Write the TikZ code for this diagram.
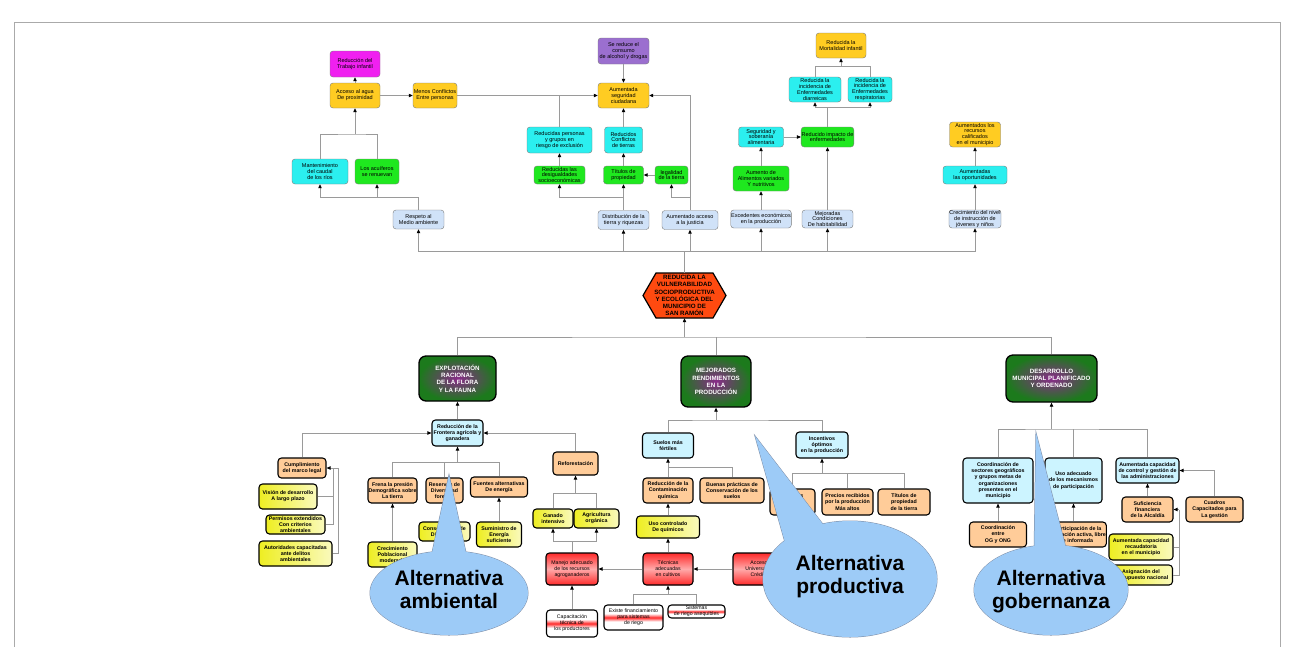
\documentclass[tikz,border=0pt]{standalone}
\usepackage{fontspec}
\setmainfont{Liberation Sans}
\usetikzlibrary{arrows.meta}
\definecolor{lngray}{HTML}{9A9A9A}
\definecolor{boxedge}{HTML}{7A7A7A}
\definecolor{gold}{HTML}{FFCC22}
\definecolor{magen}{HTML}{F020F0}
\definecolor{purp}{HTML}{9B6FCF}
\definecolor{cyanB}{HTML}{2BEFEF}
\definecolor{grn}{HTML}{1FE81F}
\definecolor{lblu}{HTML}{D0E2F8}
\definecolor{lcyan}{HTML}{CCF4FF}
\definecolor{peach}{HTML}{FFCC99}
\definecolor{ylw}{HTML}{EEEE22}
\definecolor{rd}{HTML}{FF2A2A}
\definecolor{dkgreen}{HTML}{1C7A1C}
\definecolor{glow}{HTML}{8A2A8A}
\definecolor{hexred}{HTML}{FF4A10}
\definecolor{bubblue}{HTML}{9DCBF7}
\definecolor{bubedge}{HTML}{7F8FA8}
\definecolor{framegray}{HTML}{AAAAAA}
\pgfdeclareverticalshading{redband}{100bp}{color(0bp)=(white); color(42bp)=(white); color(50bp)=(rd); color(58bp)=(white); color(100bp)=(white)}
\newcommand{\toptxt}{\fontsize{5.5}{5.9}\selectfont}
\newcommand{\bottxt}{\fontsize{5.3}{6.2}\selectfont\bfseries}
\newcommand{\redtxt}{\fontsize{5.2}{6}\selectfont}
\newcommand{\bigtxt}{\fontsize{6.2}{7.2}\selectfont\bfseries}
\newcommand{\hextxt}{\fontsize{6.2}{7.1}\selectfont\bfseries}
\newcommand{\bubtxt}{\fontsize{21}{23}\selectfont\bfseries}

\begin{document}
\begin{tikzpicture}[x=1pt,y=-1pt,
  ln/.style={draw=lngray,line width=0.8pt},
  arr/.style={-{Triangle[length=4pt,width=3.4pt,color=black]}},
  sz/.style 2 args={minimum width=#1,minimum height=#2},
  tbox/.style={rounded corners=3pt,align=center,inner sep=0.5pt,font=\toptxt,draw=boxedge,line width=0.4pt,fill=#1},
  bbox/.style={rounded corners=3.5pt,align=center,inner sep=0.5pt,font=\bottxt,draw=black,line width=1.1pt,fill=#1},
  ybox/.style={bbox=ylw,left color=ylw,right color=ylw!30!white},
  rbox/.style={bbox=rd,font=\redtxt,top color=rd,bottom color=rd,middle color=rd!40!white},
  wbox/.style={bbox=white,font=\redtxt,shading=redband},
  gbox/.style={rounded corners=7pt,align=center,inner sep=1pt,draw=black,line width=1.3pt,inner color=glow,outer color=dkgreen,text=white,font=\bigtxt},
  bubline/.style={draw=bubedge,line width=1pt},
  bubfill/.style={fill=bubblue},
  bubtext/.style={font=\bubtxt,align=center}
]
\useasboundingbox (0,0) rectangle (1292,646);
% frame
\draw[framegray,line width=0.6pt] (14,660) -- (14,22) -- (1280,22) -- (1280,660);

% top: water
\node[tbox=magen,sz={50}{26}] (trab) at (355,64) {Reducción del\\Trabajo infantil};
\node[tbox=gold,sz={50}{25}] (agua) at (355,95.5) {Acceso al agua\\De proximidad};
\node[tbox=gold,sz={44}{25}] (menos) at (435,95.5) {Menos Conflictos\\Entre personas};
\node[tbox=cyanB,sz={56}{25}] (caudal) at (320,171.5) {Mantenimiento\\del caudal\\de los ríos};
\node[tbox=grn,sz={44}{25}] (acuif) at (377,171.5) {Los acuíferos\\se renuevan};
\node[tbox=lblu,sz={51}{19}] (respeto) at (418.5,219.5) {Respeto al\\Medio ambiente};

% top: security
\node[tbox=purp,sz={51}{26}] (alcohol) at (623.5,51) {Se reduce el\\consumo\\de alcohol y drogas};
\node[tbox=gold,sz={51}{25}] (segur) at (623.5,95.5) {Aumentada\\seguridad\\ciudadana};
\node[tbox=cyanB,sz={65}{26}] (exclus) at (559.5,140) {Reducidas personas\\y grupos en\\riesgo de exclusión};
\node[tbox=cyanB,sz={38}{26}] (conflt) at (623.5,140) {Reducidos\\Conflictos\\de tierras};
\node[tbox=grn,sz={51}{18}] (desig) at (559.5,175) {Reducidas las\\desigualdades\\socioeconómicas};
\node[tbox=grn,sz={40}{18}] (titulos) at (623.5,175) {Títulos de\\propiedad};
\node[tbox=grn,sz={33}{18}] (legal) at (671.5,175) {legalidad\\de la tierra};
\node[tbox=lblu,sz={51}{19}] (distrib) at (623.5,220) {Distribución de la\\tierra y riquezas};
\node[tbox=lblu,sz={56}{19}] (justic) at (690,220) {Aumentado acceso\\a la justicia};

% top: health
\node[tbox=gold,sz={50}{25}] (mortal) at (841,45.5) {Reducida la\\Mortalidad infantil};
\node[tbox=cyanB,sz={52}{25}] (diarr) at (815,89.5) {Reducida la\\incidencia de\\Enfermedades\\diarreicas};
\node[tbox=cyanB,sz={44}{25}] (resp) at (870,89.5) {Reducida la\\incidencia de\\Enfermedades\\respiratorias};
\node[tbox=cyanB,sz={45}{20}] (soberan) at (761,137) {Seguridad y\\soberanía\\alimentaria};
\node[tbox=grn,sz={51}{20}] (impacto) at (827.5,137) {Reducido impacto de\\enfermedades};
\node[tbox=grn,sz={56}{25}] (alim) at (761,178.5) {Aumento de\\Alimentos variados\\Y nutritivos};
\node[tbox=lblu,sz={58}{18}] (exced) at (761,219) {Excedentes económicos\\en la producción};
\node[tbox=lblu,sz={51}{18}] (habit) at (827.5,219) {Mejoradas\\Condiciones\\De habitabilidad};
\node[tbox=gold,sz={51}{25}] (recurs) at (975,134.5) {Aumentados los\\recursos\\calificados\\en el municipio};
\node[tbox=cyanB,sz={64}{18}] (oport) at (975,175) {Aumentadas\\las oportunidades};
\node[tbox=lblu,sz={50}{18}] (instr) at (975,219) {Crecimiento del nivel\\de instrucción de\\jóvenes y niños};

% top connectors
\draw[ln,arr] (agua) -- (trab);
\draw[ln,arr] (agua) -- (menos);
\draw[ln,arr] (menos) -- (segur);
\coordinate (jw) at (355,134);
\draw[ln] (caudal.north) |- (jw) -| (acuif.north);
\draw[ln,arr] (jw) -- (agua.south);
\coordinate (jresp) at (418.5,197);
\draw[ln] (respeto.north) -- (jresp);
\draw[ln,arr] (jresp) -| (caudal.south);
\draw[ln,arr] (jresp) -| (acuif.south);
\draw[ln,arr] (alcohol) -- (segur);
\draw[ln] (exclus.north) -- (exclus.north |- segur.west);
\draw[ln,arr] (conflt) -- (segur);
\draw[ln,arr] (justic.north) |- (segur.east);
\coordinate (jl) at (690,197);
\draw[ln,arr] (jl) -| (legal.south);
\draw[ln,arr] (legal) -- (titulos);
\draw[ln,arr] (titulos) -- (conflt);
\draw[ln,arr] (desig) -- (exclus);
\coordinate (jdist) at (623.5,197);
\draw[ln] (distrib.north) -- (jdist);
\draw[ln,arr] (jdist) -| (desig.south);
\draw[ln,arr] (jdist) -- (titulos.south);
\coordinate (jm2) at (841,66.7);
\draw[ln] (diarr.north) |- (jm2) -| (resp.north);
\draw[ln,arr] (jm2) -- (mortal.south);
\coordinate (jimp) at (827.5,107);
\draw[ln] (impacto.north) -- (jimp);
\draw[ln,arr] (jimp) -| (diarr.south);
\draw[ln,arr] (jimp) -| (resp.south);
\draw[ln,arr] (soberan) -- (impacto);
\draw[ln,arr] (alim) -- (soberan);
\draw[ln,arr] (exced) -- (alim);
\draw[ln,arr] (habit) -- (impacto);
\draw[ln,arr] (instr) -- (oport);
\draw[ln,arr] (oport) -- (recurs);

% goal
\fill[hexred,draw=black,line width=1.2pt] (643,295.5) -- (656,273) -- (713,273) -- (726,295.5) -- (713,318) -- (656,318) -- cycle;
\node[font=\hextxt,align=center,minimum width=83,minimum height=45,inner sep=0pt] (meta) at (684.5,295.5)
  {REDUCIDA LA\\VULNERABILIDAD\\SOCIOPRODUCTIVA\\Y ECOLÓGICA DEL\\MUNICIPIO DE\\SAN RAMÓN};
\coordinate (jtop) at (684.5,251);
\draw[ln] (meta.north) -- (jtop);
\foreach \n in {respeto,distrib,justic,exced,habit,instr}
  \draw[ln,arr] (jtop) -| (\n.south);

% components
\node[gbox,sz={77}{45}] (explot) at (457.5,378.5) {EXPLOTACIÓN\\RACIONAL\\DE LA FLORA\\Y LA FAUNA};
\node[gbox,sz={70}{51}] (mejor) at (716,381.5) {MEJORADOS\\RENDIMIENTOS\\EN LA\\PRODUCCIÓN};
\node[gbox,sz={91}{47}] (desarr) at (1051.5,378.5) {DESARROLLO\\MUNICIPAL PLANIFICADO\\Y ORDENADO};
\coordinate (jg) at (684.5,337);
\draw[ln] (explot.north) |- (jg) -| (desarr.north);
\draw[ln] (mejor.north) -- (mejor.north |- jg);
\draw[ln,arr] (jg) -- (meta.south);

% bottom: environment
\node[bbox=lcyan,sz={51}{26}] (front) at (457.5,433) {Reducción de la\\Frontera agrícola y\\ganadera};
\node[bbox=peach,sz={48}{20}] (marco) at (302,468) {Cumplimiento\\del marco legal};
\node[ybox,sz={58}{25}] (vision) at (288,496.5) {Visión de desarrollo\\A largo plazo};
\node[ybox,sz={59}{19}] (permis) at (295.5,524.5) {Permisos extendidos\\Con criterios\\ambientales};
\node[ybox,sz={73}{25}] (autor) at (295.5,553.5) {Autoridades capacitadas\\ante delitos\\ambientales};
\node[bbox=peach,sz={49}{25}] (frena) at (392.5,490.5) {Frena la presión\\Demográfica sobre\\La tierra};
\node[bbox=peach,sz={37}{25}] (reserv) at (444.5,490.5) {Reservas de\\Diversidad\\forestal};
\node[bbox=peach,sz={57}{20}] (fuentes) at (499,487) {Fuentes alternativas\\De energía};
\node[ybox,sz={49}{25}] (pobla) at (392.5,554.5) {Crecimiento\\Poblacional\\moderado};
\node[ybox,sz={51}{19}] (conserv) at (444.5,531.5) {Conservación de\\Diversidad};
\node[ybox,sz={45}{25}] (sumin) at (499,534.5) {Suministro de\\Energía\\suficiente};
\node[bbox=peach,sz={45}{23}] (refor) at (575.5,463.5) {Reforestación};
\node[ybox,sz={40}{19}] (ganado) at (553,518.5) {Ganado\\intensivo};
\node[ybox,sz={45}{19}] (agric) at (596.5,518.5) {Agricultura\\orgánica};
\node[rbox,sz={52}{32}] (manejo) at (572,569) {Manejo adecuado\\de los recursos\\agroganaderos};
\node[wbox,sz={51}{27}] (capac) at (572,623.5) {Capacitación\\técnica de\\los productores};

\draw[ln,arr] (front) -- (explot);
\draw[ln,arr] (marco.north) |- (front.west);
\draw[ln,arr] (refor.north) |- (front.east);
\coordinate (bm) at (338,468);
\coordinate (bv) at (333,468);
\draw[ln,arr] (bm) -- (marco.east);
\draw[ln] (bm) |- (autor.east);
\draw[ln] (bv) |- (vision.east);
\draw[ln] (bv) |- (permis.east);
\coordinate (jf) at (457.5,462);
\draw[ln] (frena.north) |- (jf) -| (fuentes.north);
\draw[ln] (reserv.north) -- (reserv.north |- jf);
\draw[ln,arr] (jf) -- (front.south);
\draw[ln,arr] (pobla) -- (frena);
\draw[ln,arr] (sumin) -- (fuentes);
\coordinate (jr) at (575.5,493);
\draw[ln] (ganado.north) |- (jr) -| (agric.north);
\draw[ln,arr] (jr) -- (refor.south);
\coordinate (jm) at (572,541);
\draw[ln] (manejo.north) -- (jm);
\draw[ln,arr] (jm) -| (ganado.south);
\draw[ln,arr] (jm) -| (agric.south);
\draw[ln,arr] (capac) -- (manejo);

% bottom: production
\node[rbox,sz={50}{32}] (tecn) at (668,569) {Técnicas\\adecuadas\\en cultivos};
\node[wbox,sz={59}{25}] (financ) at (633.5,617.5) {Existe financiamiento\\para sistemas\\de riego};
\node[wbox,sz={57}{13}] (riego) at (696.5,611.5) {Sistemas\\de riego asequibles};
\node[ybox,sz={63}{22}] (quimic) at (668,527) {Uso controlado\\De químicos};
\node[bbox=peach,sz={50}{25}] (contam) at (668,490.5) {Reducción de la\\Contaminación\\química};
\node[bbox=peach,sz={64}{25}] (buenas) at (732,490.5) {Buenas prácticas de\\Conservación de los\\suelos};
\node[bbox=lcyan,sz={51}{25}] (suelos) at (668,445.5) {Suelos más\\fértiles};
\node[bbox=lcyan,sz={52}{26}] (incent) at (822,445) {Incentivos\\óptimos\\en la producción};
\node[bbox=peach,sz={45}{26}] (insum) at (792.5,502) {Insumos\\Agrícolas\\asequibles};
\node[bbox=peach,sz={51}{26}] (precio) at (847.5,502) {Precios recibidos\\por la producción\\Más altos};
\node[bbox=peach,sz={52}{26}] (tittier) at (904,502) {Títulos de\\propiedad\\de la tierra};
\node[rbox,sz={52}{32}] (credit) at (759,569) {Acceso\\Universal al\\Crédito};

\draw[ln,arr] (tecn) -- (manejo);
\draw[ln,arr] (credit) -- (tecn);
\coordinate (jt) at (668,594);
\draw[ln] (financ.north) |- (jt) -| (riego.north);
\draw[ln,arr] (jt) -- (tecn.south);
\draw[ln,arr] (tecn) -- (quimic);
\draw[ln,arr] (quimic) -- (contam);
\coordinate (js) at (668,467);
\draw[ln] (contam.north) -- (js) -| (buenas.north);
\draw[ln,arr] (js) -- (suelos.south);
\coordinate (jp) at (716,420);
\draw[ln] (suelos.north) |- (jp) -| (incent.north);
\draw[ln,arr] (jp) -- (mejor.south);
\coordinate (ji) at (822,473);
\draw[ln] (insum.north) |- (ji) -| (tittier.north);
\draw[ln] (precio.north) -- (precio.north |- ji);
\draw[ln,arr] (ji) -- (incent.south);

% bottom: governance
\node[bbox=lcyan,sz={70}{45}] (coord) at (998,480.5) {Coordinación de\\sectores geográficos\\y grupos metas de\\organizaciones\\presentes en el\\municipio};
\node[bbox=lcyan,sz={57}{45}] (mecan) at (1073.5,480.5) {Uso adecuado\\de los mecanismos\\de participación};
\node[bbox=lcyan,sz={63}{25}] (admin) at (1147.5,470.5) {Aumentada capacidad\\de control y gestión de\\las administraciones};
\node[bbox=peach,sz={57}{25}] (ogong) at (998,534.5) {Coordinación\\entre\\OG y ONG};
\node[bbox=peach,sz={50}{25}] (partic) at (1078,534.5) {Participación de la\\población activa, libre\\e informada};
\node[bbox=peach,sz={51}{25}] (alcald) at (1147.5,509.5) {Suficiencia\\financiera\\de la Alcaldía};
\node[bbox=peach,sz={57}{25}] (cuadros) at (1214.5,509.5) {Cuadros\\Capacitados para\\La gestión};
\node[ybox,sz={64}{26}] (recaud) at (1141,547) {Aumentada capacidad\\recaudatoria\\en el municipio};
\node[ybox,sz={63}{20}] (presup) at (1141,575) {Asignación del\\presupuesto nacional};

\coordinate (jd) at (1051.5,429);
\draw[ln] (coord.north) |- (jd) -| (admin.north);
\draw[ln] (mecan.north) -- (mecan.north |- jd);
\draw[ln,arr] (jd) -- (desarr.south);
\draw[ln,arr] (ogong) -- (coord);
\draw[ln,arr] (mecan.south |- partic.north) -- (mecan.south);
\draw[ln,arr] (alcald) -- (admin);
\draw[ln,arr] (cuadros.north) |- (admin.east);
\coordinate (ja) at (1179,509.5);
\draw[ln,arr] (ja) -- (alcald.east);
\draw[ln] (recaud.east) -| (ja);
\draw[ln] (presup.east) -| (ja);

% callouts
\draw[bubline] (449,475) -- (430,562) -- (468,562) -- cycle;
\draw[bubline] (449,593) ellipse [x radius=79,y radius=42];
\draw[bubline] (755,436) -- (790,560) -- (835,540) -- cycle;
\draw[bubline] (850,579) ellipse [x radius=87,y radius=58];
\draw[bubline] (1036,433) -- (1034,562) -- (1068,556) -- cycle;
\draw[bubline] (1051,590) ellipse [x radius=77,y radius=45];
\fill[bubfill] (449,475) -- (430,562) -- (468,562) -- cycle;
\fill[bubfill] (449,593) ellipse [x radius=79,y radius=42];
\fill[bubfill] (755,436) -- (790,560) -- (835,540) -- cycle;
\fill[bubfill] (850,579) ellipse [x radius=87,y radius=58];
\fill[bubfill] (1036,433) -- (1034,562) -- (1068,556) -- cycle;
\fill[bubfill] (1051,590) ellipse [x radius=77,y radius=45];
\node[bubtext] (altamb) at (449,589) {Alternativa\\ambiental};
\node[bubtext] (altprod) at (850,577) {Alternativa\\productiva};
\node[bubtext] (altgob) at (1051,592) {Alternativa\\gobernanza};
\end{tikzpicture}
\end{document}
